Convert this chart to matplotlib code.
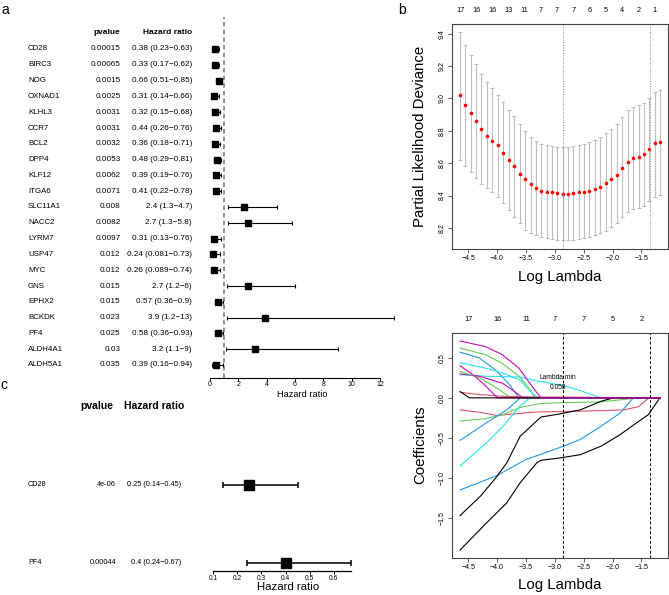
import matplotlib
matplotlib.use("Agg")
import matplotlib.pyplot as plt
import numpy as np

plt.rcParams['font.family'] = ['Liberation Sans', 'DejaVu Sans']

W, H = 669, 595

# ---- panel a: univariate cox results
genes_a = ['CD28', 'BIRC3', 'NOG', 'OXNAD1', 'KLHL3', 'CCR7', 'BCL2', 'DPP4', 'KLF12', 'ITGA6',
           'SLC11A1', 'NACC2', 'LYRM7', 'USP47', 'MYC', 'GNS', 'EPHX2', 'BCKDK', 'PF4',
           'ALDH4A1', 'ALDH5A1']
pvals_a = ['0.00015', '0.00065', '0.0015', '0.0025', '0.0031', '0.0031', '0.0032', '0.0053',
           '0.0062', '0.0071', '0.008', '0.0082', '0.0097', '0.012', '0.012', '0.015', '0.015',
           '0.023', '0.025', '0.03', '0.035']
hr_a = [0.38, 0.33, 0.66, 0.31, 0.32, 0.44, 0.36, 0.48, 0.39, 0.41, 2.4, 2.7, 0.31, 0.24, 0.26,
        2.7, 0.57, 3.9, 0.58, 3.2, 0.39]
lo_a = [0.23, 0.17, 0.51, 0.14, 0.15, 0.26, 0.18, 0.29, 0.19, 0.22, 1.3, 1.3, 0.13, 0.081, 0.089,
        1.2, 0.36, 1.2, 0.36, 1.1, 0.16]
hi_a = [0.63, 0.62, 0.85, 0.66, 0.68, 0.76, 0.71, 0.81, 0.76, 0.78, 4.7, 5.8, 0.76, 0.73, 0.74,
        6, 0.9, 13, 0.93, 9, 0.94]

# ---- panel c: multivariate cox
genes_c = ['CD28', 'PF4']
pvals_c = ['4e-06', '0.00044']
hr_c = [0.25, 0.4]
lo_c = [0.14, 0.24]
hi_c = [0.45, 0.67]

# ---- panel b: lasso cv
loglam = [-4.64, -4.55, -4.45, -4.36, -4.27, -4.17, -4.08, -3.99, -3.89, -3.80, -3.71, -3.61,
          -3.52, -3.42, -3.33, -3.24, -3.14, -3.05, -2.96, -2.86, -2.77, -2.68, -2.58, -2.49,
          -2.40, -2.30, -2.21, -2.12, -2.02, -1.93, -1.83, -1.74, -1.65, -1.55, -1.46, -1.37,
          -1.27, -1.18]
cvm = [9.02, 8.96, 8.91, 8.86, 8.81, 8.77, 8.74, 8.71, 8.665, 8.62, 8.58, 8.535, 8.50, 8.47,
       8.445, 8.43, 8.425, 8.42, 8.415, 8.41, 8.412, 8.415, 8.42, 8.425, 8.431, 8.441, 8.456,
       8.475, 8.50, 8.53, 8.57, 8.61, 8.635, 8.64, 8.655, 8.685, 8.725, 8.73]
cvup = [9.41, 9.33, 9.27, 9.21, 9.15, 9.10, 9.066, 9.02, 8.98, 8.93, 8.89, 8.843, 8.80, 8.765,
        8.74, 8.72, 8.712, 8.705, 8.703, 8.70, 8.70, 8.705, 8.71, 8.718, 8.73, 8.745, 8.765,
        8.786, 8.812, 8.843, 8.885, 8.93, 8.95, 8.957, 8.971, 9.002, 9.043, 9.053]
cvlo = [8.62, 8.584, 8.545, 8.51, 8.47, 8.445, 8.42, 8.394, 8.355, 8.31, 8.27, 8.229, 8.19,
        8.168, 8.155, 8.145, 8.138, 8.132, 8.128, 8.124, 8.124, 8.126, 8.132, 8.138, 8.145,
        8.155, 8.168, 8.184, 8.205, 8.233, 8.267, 8.297, 8.316, 8.324, 8.336, 8.365, 8.394, 8.404]
nonzero_top = [17, 16, 16, 13, 11, 7, 7, 7, 6, 5, 4, 2, 1]
log_lambda_min = -2.856
log_lambda_1se = -1.36
lambda_min_text = '0.058'

# coefficient paths (color, log lambda knots, coefficient)
paths = [
    ('#2297E6', [-4.64, -4.31, -4.03, -3.80, -3.62, -1.18], [0.57, 0.50, 0.35, 0.18, 0, 0]),
    ('#61D04F', [-4.64, -4.2, -3.91, -3.62, -3.42, -3.35, -1.18], [0.62, 0.54, 0.43, 0.27, 0.10, 0, 0]),
    ('#28E2E5', [-4.64, -4.2, -3.9, -3.6, -3.45, -3.3, -1.18], [0.44, 0.37, 0.31, 0.22, 0.10, 0, 0]),
    ('#28E2E5', [-4.64, -4.2, -3.6, -3.3, -2.9, -2.6, -2.4, -2.19, -1.18],
     [0.29, 0.27, 0.26, 0.21, 0.16, 0.10, 0.05, 0, 0]),
    ('#CD0BBC', [-4.64, -4.3, -3.9, -3.7, -3.55, -1.18], [0.30, 0.27, 0.18, 0.08, 0, 0]),
    ('#61D04F', [-4.64, -4.3, -4.0, -3.75, -1.18], [0.33, 0.25, 0.12, 0, 0]),
    ('#DF536B', [-4.64, -4.3, -4.0, -3.7, -3.4, -3.24, -2.8, -2.2, -1.8, -1.55, -1.37, -1.18],
     [-0.15, -0.18, -0.22, -0.20, -0.18, -0.175, -0.17, -0.16, -0.15, -0.11, 0, 0]),
    ('#61D04F', [-4.64, -4.2, -3.9, -3.6, -3.24, -2.9, -2.2, -1.8, -1.58, -1.18],
     [-0.29, -0.26, -0.21, -0.12, -0.07, -0.06, -0.05, -0.02, 0, 0]),
    ('#2297E6', [-4.64, -4.18, -3.83, -3.6, -1.18], [-0.53, -0.31, -0.15, 0, 0]),
    ('#28E2E5', [-4.64, -4.18, -3.89, -3.6, -3.43, -1.18], [-0.85, -0.56, -0.35, -0.10, 0, 0]),
    ('#2297E6', [-4.64, -4.0, -3.5, -2.91, -2.56, -2.19, -1.87, -1.64, -1.18],
     [-1.15, -0.97, -0.77, -0.62, -0.52, -0.35, -0.19, 0, 0]),
    ('black', [-4.64, -4.29, -4.0, -3.83, -3.6, -3.24, -2.91, -2.56, -2.19, -1.98, -1.18],
     [-1.47, -1.23, -0.98, -0.81, -0.48, -0.24, -0.20, -0.15, -0.04, 0, 0]),
    ('black', [-4.64, -4.18, -3.83, -3.60, -3.31, -3.24, -2.91, -2.56, -2.19, -1.87, -1.58, -1.38, -1.18],
     [-1.90, -1.56, -1.31, -1.06, -0.81, -0.78, -0.75, -0.71, -0.60, -0.46, -0.31, -0.21, 0]),
    ('#DF536B', [-4.64, -4.3, -3.9, -3.3, -2.8, -2.3, -2.1, -1.18], [0.07, 0.04, 0.02, 0.01, 0.01, 0.005, 0, 0]),
    ('#CD0BBC', [-4.64, -4.4, -4.2, -3.99, -1.18], [0.40, 0.28, 0.15, 0, 0]),
    ('black', [-4.64, -4.48, -1.18], [0.08, 0, 0]),
    ('#CD0BBC', [-4.64, -4.2, -3.91, -3.62, -3.39, -3.24, -1.18], [0.71, 0.64, 0.54, 0.37, 0.14, 0, 0]),
]
nonzero_bottom = [17, 16, 11, 7, 7, 5, 2]

fig = plt.figure(figsize=(W / 100, H / 100), dpi=100)


def fx(x):
    return x / W


def fy(y):
    return 1 - y / H


def put(x, y, s, **kw):
    fig.text(fx(x), fy(y), s, **kw)


def box(l, t, r, b):
    return fig.add_axes([fx(l), fy(b), (r - l) / W, (b - t) / H])


def forest(ax, hr, lo, hi, ms, cap, lw):
    hr = np.array(hr)
    rows = np.arange(len(hr))
    eb = ax.errorbar(hr, rows, xerr=[hr - np.array(lo), np.array(hi) - hr], fmt='s',
                     color='black', ms=ms, elinewidth=lw, capsize=cap, capthick=lw)
    for art in list(eb.lines[1]) + list(eb.lines[2]):
        art.set_clip_on(False)
    eb.lines[0].set_clip_on(False)
    for s in ['top', 'left', 'right']:
        ax.spines[s].set_visible(False)
    ax.set_yticks([])
    ax.patch.set_alpha(0)


# ---------- panel a
put(5, 10, 'a', fontsize=10, ha='center', va='center')
put(107, 33, 'pvalue', fontsize=6, fontweight='bold', ha='center', va='center')
put(167.5, 33, 'Hazard ratio', fontsize=6, fontweight='bold', ha='center', va='center')
row0, dy = 49, 15.8
for i, g in enumerate(genes_a):
    y = row0 + i * dy
    put(28, y, g, fontsize=5.7, ha='left', va='center')
    put(120.5, y, pvals_a[i], fontsize=5.9, ha='right', va='center')
    put(192, y, f'{hr_a[i]:g} ({lo_a[i]:g}\u2212{hi_a[i]:g})', fontsize=5.9, ha='right', va='center')

ax_a = box(210, 17, 380, 378)
ax_a.set_xlim(0, 12)
ax_a.set_ylim((378 - row0) / dy, (17 - row0) / dy)
ax_a.axvline(1, color='#777777', ls=(0, (3, 2)), lw=1.1)
forest(ax_a, hr_a, lo_a, hi_a, ms=5, cap=1.2, lw=0.8)
ax_a.spines['bottom'].set_bounds(0, 12)
ax_a.spines['bottom'].set_linewidth(0.8)
ax_a.set_xticks(range(0, 13, 2))
ax_a.tick_params(axis='x', length=1.8, width=0.7, labelsize=5, pad=0)
put(302, 394.5, 'Hazard ratio', fontsize=6.7, ha='center', va='center')

# ---------- panel c
put(4, 385, 'c', fontsize=10, ha='center', va='center')
put(96.7, 406, 'pvalue', fontsize=7.5, fontweight='bold', ha='center', va='center')
put(153.8, 406, 'Hazard ratio', fontsize=7.5, fontweight='bold', ha='center', va='center')
rowc0, dyc = 485, 78
for i, g in enumerate(genes_c):
    y = rowc0 + i * dyc
    put(28, y, g, fontsize=5.2, ha='left', va='center')
    put(116, y, pvals_c[i], fontsize=5.3, ha='right', va='center')
    put(181.5, y, f'{hr_c[i]:g} ({lo_c[i]:g}\u2212{hi_c[i]:g})', fontsize=5.3, ha='right', va='center')

ax_c = box(213, 420, 358, 571)
ax_c.set_xlim(0.1, 0.7)
ax_c.set_ylim((571 - rowc0) / dyc, (420 - rowc0) / dyc)
forest(ax_c, hr_c, lo_c, hi_c, ms=6.8, cap=2.4, lw=1.1)
ax_c.spines['bottom'].set_bounds(0.1, 0.67)
ax_c.spines['bottom'].set_linewidth(0.9)
ax_c.set_xticks([0.1, 0.2, 0.3, 0.4, 0.5, 0.6])
ax_c.tick_params(axis='x', length=2.2, width=0.7, labelsize=4.8, pad=0.5)
put(288, 587, 'Hazard ratio', fontsize=8.2, ha='center', va='center')

# ---------- panel b (top): cross validation
put(402, 10, 'b', fontsize=10, ha='center', va='center')


def r_axes(ax):
    for s in ax.spines.values():
        s.set_color('#444444')
        s.set_linewidth(0.8)
    ax.set_xlim(-4.78, -1.04)
    ax.set_xticks([-4.5, -4.0, -3.5, -3.0, -2.5, -2.0, -1.5])
    ax.tick_params(direction='out', length=3, width=0.6, labelsize=5, color='#444444')
    ax.tick_params(axis='x', pad=1.5)
    ax.tick_params(axis='y', pad=1.5, labelrotation=90)
    for lab in ax.get_yticklabels():
        lab.set_va('center')


ax_b1 = box(452, 24, 668, 249)
cvm_arr = np.array(cvm)
ax_b1.errorbar(loglam, cvm, yerr=[cvm_arr - np.array(cvlo), np.array(cvup) - cvm_arr], fmt='none',
               ecolor='#BEBEBE', elinewidth=0.8, capsize=1.5, capthick=0.8)
ax_b1.plot(loglam, cvm, 'o', color='red', ms=2.6, mec='none')
ax_b1.axvline(log_lambda_min, color='#888888', ls=':', lw=0.7)
ax_b1.axvline(log_lambda_1se, color='#888888', ls=':', lw=0.7)
ax_b1.set_ylim(8.07, 9.46)
ax_b1.set_yticks([8.2, 8.4, 8.6, 8.8, 9.0, 9.2, 9.4])
r_axes(ax_b1)
for x, n in zip(loglam[::3], nonzero_top):
    ax_b1.annotate(str(n), (x, 1), xycoords=('data', 'axes fraction'), xytext=(0, 10),
                   textcoords='offset points', ha='center', va='center', fontsize=5.3)
put(560, 277, 'Log Lambda', fontsize=10.8, ha='center', va='center')
put(420, 136, 'Partial Likelihood Deviance', fontsize=10.8, ha='center', va='center', rotation=90)

# ---------- panel b (bottom): coefficient paths
ax_b2 = box(452, 333, 668, 558)
for col, xs, ys in paths:
    ax_b2.plot(xs, ys, color=col, lw=0.8)
ax_b2.axvline(log_lambda_min, color='black', ls=(0, (3, 2)), lw=0.7)
ax_b2.axvline(log_lambda_1se, color='black', ls=(0, (3, 2)), lw=0.7)
ax_b2.text(-2.95, 0.254, 'Lambda.min', fontsize=4.8, ha='center', va='center')
ax_b2.text(-2.95, 0.135, lambda_min_text, fontsize=4.8, ha='center', va='center')
ax_b2.set_ylim(-2.0, 0.81)
ax_b2.set_yticks([-1.5, -1.0, -0.5, 0.0, 0.5])
r_axes(ax_b2)
for x, n in zip([-4.5, -4.0, -3.5, -3.0, -2.5, -2.0, -1.5], nonzero_bottom):
    ax_b2.annotate(str(n), (x, 1), xycoords=('data', 'axes fraction'), xytext=(0, 10),
                   textcoords='offset points', ha='center', va='center', fontsize=5.3)
put(560, 585, 'Log Lambda', fontsize=10.8, ha='center', va='center')
put(420, 445, 'Coefficients', fontsize=10.8, ha='center', va='center', rotation=90)

fig.savefig('out.png', dpi=100, facecolor='white')
